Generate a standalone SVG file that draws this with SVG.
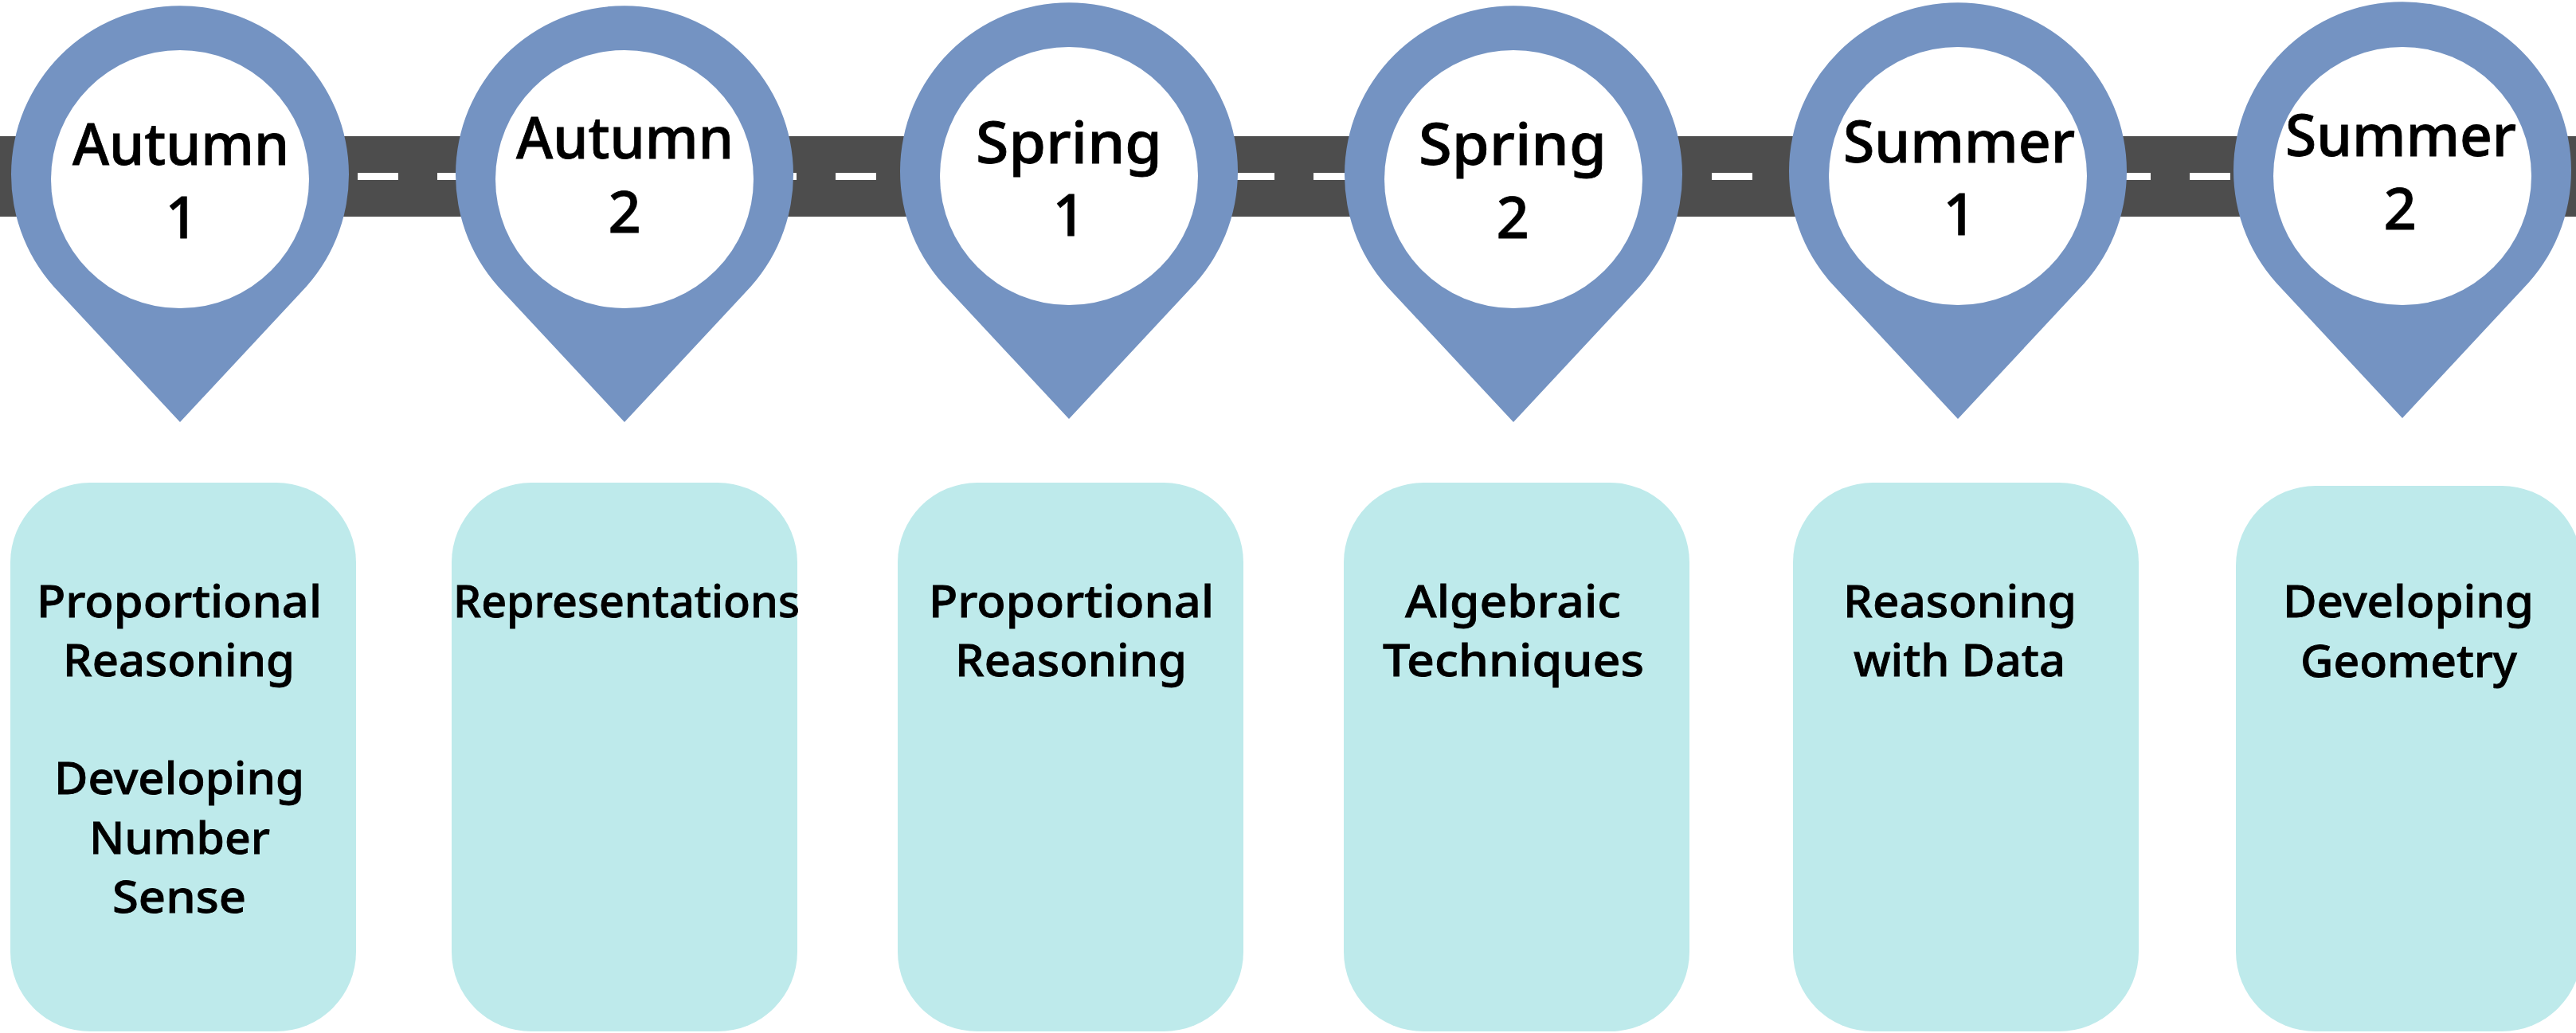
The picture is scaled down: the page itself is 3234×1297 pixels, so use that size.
<svg xmlns="http://www.w3.org/2000/svg" xmlns:xlink="http://www.w3.org/1999/xlink" width="3234" height="1297" viewBox="0 0 3234 1297">
<style>
.pin{fill:#7493c2}
.hole{fill:#fff}
.card{fill:#beeaeb}
.t{font-family:"Noto Sans","Open Sans",sans-serif;font-weight:500;fill:#000;stroke:#000;stroke-width:.8}
.h{font-size:72px}
.b{font-size:56px}
.road{fill:#4d4d4d}
.dash{stroke:#fff;stroke-width:9;stroke-dasharray:51 49;fill:none}
</style>
<defs>
<path id="pinshape" class="pin" d="M0 0L-151 -162A212 212 0 1 1 151 -162Z"/>
<rect id="cardshape" class="card" width="434" height="689" rx="100" ry="100"/>
</defs>
<rect width="3234" height="1297" fill="#fff"/>
<g id="road">
<rect class="road" x="0" y="171" width="3234" height="101"/>
<line class="dash" x1="49" y1="221.5" x2="3234" y2="221.5"/>
</g>
<g id="connectors"></g>
<g id="pin-autumn-1">
<use href="#pinshape" x="226" y="530"/><circle class="hole" cx="226" cy="225" r="162"/>
<text class="t h" x="91" y="207" textLength="272" lengthAdjust="spacingAndGlyphs">Autumn</text>
<text class="t h" x="228" y="299" text-anchor="middle">1</text>
</g>
<g id="pin-autumn-2">
<use href="#pinshape" x="784" y="530"/><circle class="hole" cx="784" cy="225" r="162"/>
<text class="t h" x="648" y="199" textLength="273" lengthAdjust="spacingAndGlyphs">Autumn</text>
<text class="t h" x="784" y="292" text-anchor="middle">2</text>
</g>
<g id="pin-spring-1">
<use href="#pinshape" x="1342" y="526"/><circle class="hole" cx="1342" cy="221" r="162"/>
<text class="t h" x="1225" y="205" textLength="234" lengthAdjust="spacingAndGlyphs">Spring</text>
<text class="t h" x="1342" y="296" text-anchor="middle">1</text>
</g>
<g id="pin-spring-2">
<use href="#pinshape" x="1900" y="530"/><circle class="hole" cx="1900" cy="225" r="162"/>
<text class="t h" x="1781" y="207" textLength="236" lengthAdjust="spacingAndGlyphs">Spring</text>
<text class="t h" x="1899" y="299" text-anchor="middle">2</text>
</g>
<g id="pin-summer-1">
<use href="#pinshape" x="2458" y="526"/><circle class="hole" cx="2458" cy="221" r="162"/>
<text class="t h" x="2314" y="204" textLength="291" lengthAdjust="spacingAndGlyphs">Summer</text>
<text class="t h" x="2460" y="295" text-anchor="middle">1</text>
</g>
<g id="pin-summer-2">
<use href="#pinshape" x="3016" y="525"/><circle class="hole" cx="3016" cy="221" r="162"/>
<text class="t h" x="2869" y="196" textLength="290" lengthAdjust="spacingAndGlyphs">Summer</text>
<text class="t h" x="3013" y="288" text-anchor="middle">2</text>
</g>
<g id="card-1">
<use href="#cardshape" x="13" y="606"/>
<text class="t b" x="46" y="775" textLength="358" lengthAdjust="spacingAndGlyphs">Proportional</text>
<text class="t b" x="79" y="849" textLength="291" lengthAdjust="spacingAndGlyphs">Reasoning</text>
<text class="t b" x="68" y="997" textLength="314" lengthAdjust="spacingAndGlyphs">Developing</text>
<text class="t b" x="112" y="1072" textLength="227" lengthAdjust="spacingAndGlyphs">Number</text>
<text class="t b" x="141" y="1146" textLength="168" lengthAdjust="spacingAndGlyphs">Sense</text>
</g>
<g id="card-2">
<use href="#cardshape" x="567" y="606"/>
<text class="t b" x="569" y="775" textLength="435" lengthAdjust="spacingAndGlyphs">Representations</text>
</g>
<g id="card-3">
<use href="#cardshape" x="1127" y="606"/>
<text class="t b" x="1166" y="775" textLength="358" lengthAdjust="spacingAndGlyphs">Proportional</text>
<text class="t b" x="1199" y="849" textLength="291" lengthAdjust="spacingAndGlyphs">Reasoning</text>
</g>
<g id="card-4">
<use href="#cardshape" x="1687" y="606"/>
<text class="t b" x="1764" y="775" textLength="271" lengthAdjust="spacingAndGlyphs">Algebraic</text>
<text class="t b" x="1736" y="849" textLength="328" lengthAdjust="spacingAndGlyphs">Techniques</text>
</g>
<g id="card-5">
<use href="#cardshape" x="2251" y="606"/>
<text class="t b" x="2314" y="775" textLength="293" lengthAdjust="spacingAndGlyphs">Reasoning</text>
<text class="t b" x="2327" y="849" textLength="266" lengthAdjust="spacingAndGlyphs">with Data</text>
</g>
<g id="card-6">
<rect class="card" x="2807" y="610" width="434" height="685" rx="100" ry="100"/>
<text class="t b" x="2866" y="775" textLength="315" lengthAdjust="spacingAndGlyphs">Developing</text>
<text class="t b" x="2888" y="850" textLength="272" lengthAdjust="spacingAndGlyphs">Geometry</text>
</g>
</svg>
